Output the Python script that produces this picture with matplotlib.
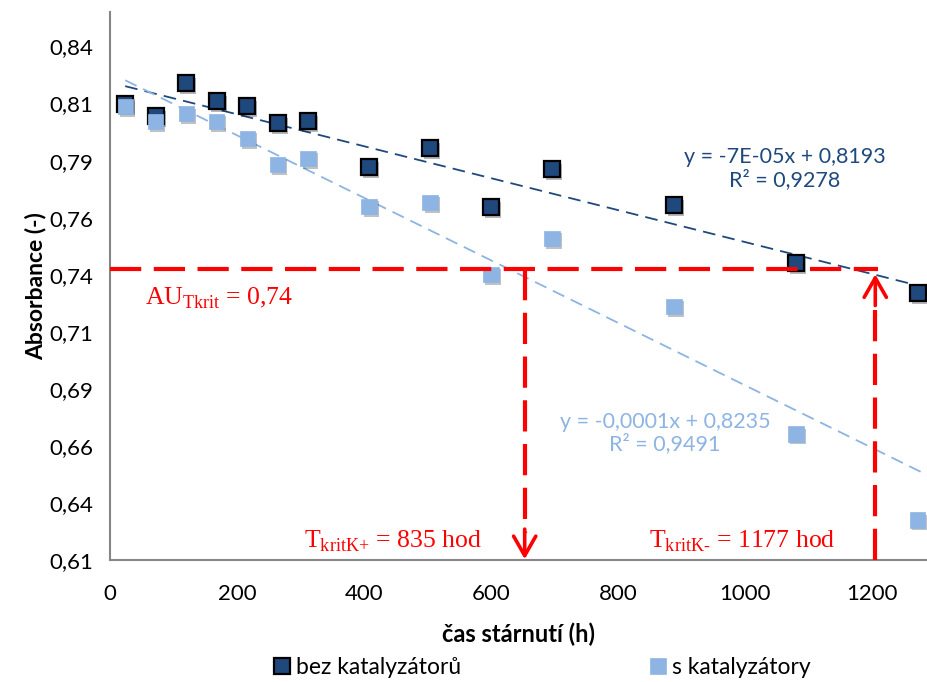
import numpy as np
import matplotlib.pyplot as plt
import matplotlib.patheffects as pe

# aging time (h) and absorbance for both sample sets
hours = [24, 72, 120, 168, 216, 264, 312, 408, 504, 600, 696, 888, 1080, 1272]
abs_bez = [0.8096, 0.8044, 0.8188, 0.8110, 0.8088, 0.8013, 0.8022,
           0.7821, 0.7904, 0.7646, 0.7812, 0.7654, 0.7400, 0.7269]
abs_s = [0.8088, 0.8022, 0.8057, 0.8022, 0.7948, 0.7834, 0.7860,
         0.7650, 0.7667, 0.7352, 0.7510, 0.7212, 0.6652, 0.6275]

# linear trend coefficients (slope, intercept)
trend_bez = (-7.0e-5, 0.8193)
trend_s = (-1.37e-4, 0.8235)

yticks = [0.61, 0.635, 0.66, 0.685, 0.71, 0.735, 0.76, 0.785, 0.81, 0.835]
ytick_labels = ["0,61", "0,64", "0,66", "0,69", "0,71", "0,74", "0,76", "0,79", "0,81", "0,84"]
xticks = [0, 200, 400, 600, 800, 1000, 1200]

au_krit = 0.7375
t_arrow = [653, 1205]   # where the critical-time arrows are drawn

dark = "#1F497D"
light = "#8DB4E2"
red = "#FF0000"

plt.rcParams["font.family"] = ["Lato", "DejaVu Sans"]
plt.rcParams["mathtext.fontset"] = "custom"
plt.rcParams["mathtext.rm"] = "Liberation Serif"

fig = plt.figure(figsize=(9.28, 6.82), dpi=100)
ax = fig.add_axes([0.1185, 0.179, 0.8815, 0.803])

shadow = [pe.SimplePatchShadow(offset=(1.5, -2), alpha=0.3), pe.Normal()]

ax.plot(hours, abs_bez, ls="none", marker="s", ms=11.5, mfc=dark, mec="black",
        mew=1.6, zorder=4, path_effects=shadow)
ax.plot(hours, abs_s, ls="none", marker="s", ms=11, mfc=light, mec=light,
        mew=0.5, zorder=4, path_effects=shadow)

# legend handles without the shadow
h_bez, = ax.plot([], [], ls="none", marker="s", ms=11.5, mfc=dark, mec="black",
                 mew=1.6, label="bez katalyzátorů")
h_s, = ax.plot([], [], ls="none", marker="s", ms=11, mfc=light, mec=light,
               mew=0.5, label="s katalyzátory")

# linear trend lines
xt = np.array([hours[0], 1300])
for (k, q), c in [(trend_bez, dark), (trend_s, light)]:
    ax.plot(xt, k * xt + q, color=c, lw=1.3, ls=(0, (7, 4)), zorder=3)

ax.text(1063, 0.7815, "y = -7E-05x + 0,8193\nR² = 0,9278", color=dark,
        fontsize=15.5, ha="center", va="center", linespacing=1.1)
ax.text(874, 0.6657, "y = -0,0001x + 0,8235\nR² = 0,9491", color=light,
        fontsize=15.5, ha="center", va="center", linespacing=1.1)

# critical absorbance level and critical times
dash = (0, (7.5, 3))
head = dict(arrowstyle="->,head_length=1.4,head_width=0.8",
            color=red, lw=2.6, shrinkA=0, shrinkB=0)
ax.plot([0, 1210], [au_krit, au_krit], color=red, lw=3, ls=dash, zorder=5)
ax.plot([t_arrow[0], t_arrow[0]], [au_krit, 0.622], color=red, lw=3, ls=dash, zorder=5)
ax.annotate("", xy=(t_arrow[0], 0.6103), xytext=(t_arrow[0], 0.6235),
            arrowprops=head, zorder=6)
ax.plot([t_arrow[1], t_arrow[1]], [0.61, 0.7225], color=red, lw=3, ls=dash, zorder=5)
ax.annotate("", xy=(t_arrow[1], 0.7352), xytext=(t_arrow[1], 0.7215),
            arrowprops=head, zorder=6)

serif = dict(family="Liberation Serif", color=red, fontsize=18.5)
ax.text(55, 0.7245, r"AU$_{\rm Tkrit}$ = 0,74", **serif, va="center")
ax.text(305, 0.6182, r"T$_{\text{kritK+}}$ = 835 hod", **serif, va="center")
ax.text(848, 0.6182, r"T$_{\text{kritK-}}$ = 1177 hod", **serif, va="center")

ax.set_xlim(0, 1288)
ax.set_ylim(0.61, 0.85)
ax.set_xticks(xticks)
ax.set_yticks(yticks)
ax.set_yticklabels(ytick_labels)
ax.tick_params(length=0, labelsize=16)
ax.tick_params(axis="x", pad=17)
ax.tick_params(axis="y", pad=12)
for s in ["top", "right"]:
    ax.spines[s].set_visible(False)
for s in ["left", "bottom"]:
    ax.spines[s].set_color("#868686")
    ax.spines[s].set_linewidth(1.5)

ax.set_xlabel("čas stárnutí (h)", fontsize=17, fontweight="bold", labelpad=14)
ax.set_ylabel("Absorbance (-)", fontsize=16.5, fontweight="bold", labelpad=2)

fig.legend(handles=[h_bez, h_s], loc="center", bbox_to_anchor=(0.585, 0.021),
           ncol=2, frameon=False, fontsize=16.5, handlelength=0.6,
           handletextpad=0.3, columnspacing=8.3)

fig.savefig("out.png", dpi=100)
